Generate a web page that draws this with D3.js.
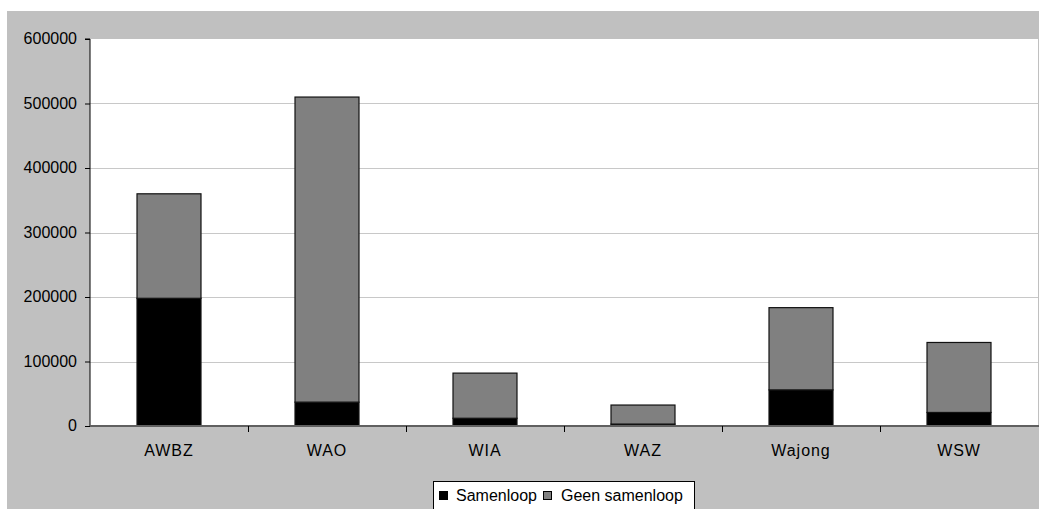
<!DOCTYPE html>
<html><head><meta charset="utf-8">
<script src="https://cdn.jsdelivr.net/npm/d3@7"></script>
<style>body{margin:0;background:#fff}svg{display:block;font-family:"Liberation Sans",Arial,sans-serif}</style>
</head><body><svg id="c" width="1039" height="509"></svg>
<script>
const categories = ["AWBZ","WAO","WIA","WAZ","Wajong","WSW"];
const samenloop = [198000, 37000, 12000, 3000, 56000, 21000];
const geenSamenloop = [162000, 473000, 70000, 29500, 127500, 108500];
const seriesNames = ["Samenloop","Geen samenloop"];
const seriesColors = ["#000000","#808080"];
const yTicks = [0,100000,200000,300000,400000,500000,600000];

const FONT = "Liberation Sans, Arial, sans-serif";
const svg = d3.select("#c");
svg.append("rect").attr("x",7).attr("y",11).attr("width",1032).attr("height",498).attr("fill","#c0c0c0");
const L=90, T=39, R=1038, B=426;
svg.append("rect").attr("x",L).attr("y",T).attr("width",R-L).attr("height",B-T).attr("fill","#fff");

const x = d3.scaleBand().domain(categories).range([L,R]).paddingInner(0).paddingOuter(0);
const y = d3.scaleLinear().domain([0,600000]).range([B,T]);

// gridlines
svg.append("g").selectAll("line").data(yTicks.filter(d=>d>0&&d<600000)).join("line")
  .attr("x1",L).attr("x2",R).attr("y1",d=>Math.round(y(d))+0.5).attr("y2",d=>Math.round(y(d))+0.5)
  .attr("stroke","#c8c8c8").attr("stroke-width",1);

const data = categories.map((c,i)=>({cat:c, Samenloop:samenloop[i], "Geen samenloop":geenSamenloop[i]}));
const stack = d3.stack().keys(seriesNames)(data);
const bw = x.bandwidth()*0.405;
svg.append("g").selectAll("g").data(stack).join("g").attr("fill",(d,i)=>seriesColors[i])
  .selectAll("rect").data(d=>d).join("rect")
  .attr("x",d=>x(d.data.cat)+(x.bandwidth()-bw)/2)
  .attr("width",bw)
  .attr("y",d=>y(d[1]))
  .attr("height",d=>y(d[0])-y(d[1]))
  .attr("stroke","#111").attr("stroke-width",1.2);

// y axis
const ya = d3.axisLeft(y).tickValues(yTicks).tickSize(5).tickPadding(8).tickFormat(d3.format("d"));
const yg = svg.append("g").attr("transform",`translate(${L},0)`).call(ya);
yg.select(".domain").attr("stroke","#000").attr("d",`M-5,${T}H0V${B}`);
yg.selectAll(".tick line").attr("stroke","#000");
yg.selectAll("text").attr("font-size",16).attr("fill","#000").attr("font-family",FONT).attr("dy","0.3em");

// x axis
const xa = d3.axisBottom(x).tickSize(0).tickPadding(18);
const xg = svg.append("g").attr("transform",`translate(0,${B})`).call(xa);
xg.select(".domain").attr("stroke","#606060").attr("stroke-width",2).attr("d",`M${L},0H${R+1}`);
xg.selectAll("text").attr("font-size",16).attr("fill","#000").attr("font-family",FONT)
  .attr("dy",null).attr("y",30).attr("letter-spacing","0.06em");
svg.append("g").selectAll("line").data(categories.slice(1)).join("line")
  .attr("x1",d=>x(d)+0.5).attr("x2",d=>x(d)+0.5).attr("y1",B).attr("y2",B+6)
  .attr("stroke","#000").attr("stroke-width",1);

// legend
const lg = svg.append("g").attr("font-family",FONT);
lg.append("rect").attr("x",433.5).attr("y",481.5).attr("width",261).attr("height",40).attr("fill","#fff").attr("stroke","#000");
const items=[{n:seriesNames[0],c:seriesColors[0],x:439,tx:456},{n:seriesNames[1],c:seriesColors[1],x:543,tx:561}];
items.forEach(it=>{
  lg.append("rect").attr("x",it.x+0.5).attr("y",491.5).attr("width",8).attr("height",8).attr("fill",it.c).attr("stroke","#000");
  lg.append("text").attr("x",it.tx).attr("y",500.5).attr("font-size",16).text(it.n);
});
</script></body></html>
